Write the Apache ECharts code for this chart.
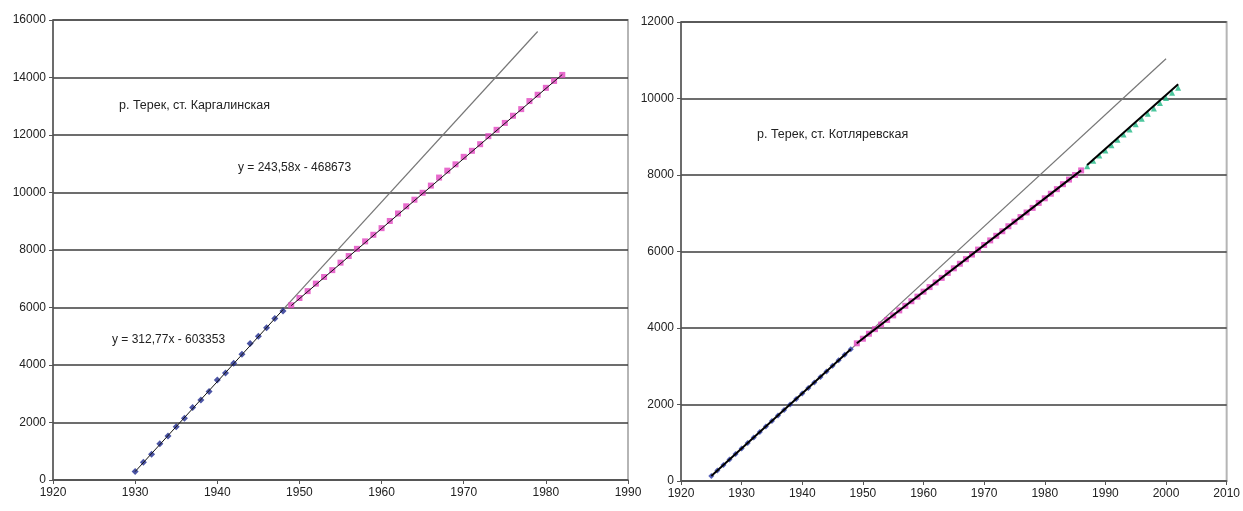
<!DOCTYPE html>
<html><head><meta charset="utf-8">
<script src="https://cdn.jsdelivr.net/npm/echarts@6/dist/echarts.min.js"></script>
<style>html,body{margin:0;padding:0;background:#fff}#c{width:1243px;height:511px}</style>
</head><body><div id="c"></div>
<script>
// ---- Left chart: р. Терек, ст. Каргалинская ----
const leftYearsA = [1930,1931,1932,1933,1934,1935,1936,1937,1938,1939,1940,1941,1942,1943,1944,1945,1946,1947,1948];
const leftValsA  = [300,620,900,1260,1530,1850,2150,2520,2780,3080,3480,3720,4060,4370,4750,5000,5300,5620,5880];
const leftYearsB = [1949,1950,1951,1952,1953,1954,1955,1956,1957,1958,1959,1960,1961,1962,1963,1964,1965,1966,1967,1968,1969,1970,1971,1972,1973,1974,1975,1976,1977,1978,1979,1980,1981,1982];
const leftValsB  = [6080,6330,6570,6830,7060,7300,7560,7790,8040,8300,8530,8760,9010,9270,9520,9750,9990,10240,10520,10760,10980,11240,11450,11680,11960,12180,12420,12670,12900,13180,13400,13640,13880,14090];
const leftTrendA = [[1930,293],[1948,5924]];
const leftTrendB = [[1949,6064],[1982,14104]];
const leftExtend = [[1948,5924],[1979,15600]];
const leftTitle = 'р. Терек, ст. Каргалинская';
const leftEqA = 'y = 312,77x - 603353';
const leftEqB = 'y = 243,58x - 468673';

// ---- Right chart: р. Терек, ст. Котляревская ----
const rightYearsA = [1925,1926,1927,1928,1929,1930,1931,1932,1933,1934,1935,1936,1937,1938,1939,1940,1941,1942,1943,1944,1945,1946,1947,1948];
const rightValsA  = [130,274,418,562,706,850,994,1138,1282,1426,1570,1714,1858,2002,2146,2290,2434,2578,2722,2866,3010,3154,3298,3442];
const rightYearsB = [1949,1950,1951,1952,1953,1954,1955,1956,1957,1958,1959,1960,1961,1962,1963,1964,1965,1966,1967,1968,1969,1970,1971,1972,1973,1974,1975,1976,1977,1978,1979,1980,1981,1982,1983,1984,1985,1986];
const rightValsB  = [3600,3720,3850,3970,4090,4210,4330,4460,4580,4700,4820,4950,5070,5190,5310,5440,5560,5680,5800,5920,6050,6170,6290,6410,6530,6660,6780,6900,7020,7140,7270,7390,7510,7630,7760,7880,8000,8120];
const rightYearsC = [1987,1988,1989,1990,1991,1992,1993,1994,1995,1996,1997,1998,1999,2000,2001,2002];
const rightValsC  = [8230,8370,8510,8640,8780,8920,9060,9190,9330,9470,9600,9740,9880,10010,10150,10280];
const rightTrendA = [[1925,130],[1948,3442]];
const rightTrendB = [[1949,3600],[1986,8120]];
const rightTrendC = [[1987,8260],[2002,10370]];
const rightExtend = [[1948,3442],[2000,11040]];
const rightTitle = 'р. Терек, ст. Котляревская';

const zip = (xs, ys) => xs.map((x, i) => [x, ys[i]]);
const FONT = '"Liberation Sans", Arial, sans-serif';
const plain = v => String(v);

function xAxis(gi, max) {
  return {type:'value', gridIndex:gi, min:1920, max:max, interval:10,
    axisLine:{show:true, lineStyle:{color:'#555', width:1.5}},
    axisTick:{show:true, inside:false, length:4, lineStyle:{color:'#555'}},
    axisLabel:{color:'#222', fontFamily:FONT, fontSize:12, margin:7, formatter:plain, showMaxLabel:true, showMinLabel:true},
    splitLine:{show:false}};
}
function yAxis(gi, max) {
  return {type:'value', gridIndex:gi, min:0, max:max, interval:2000,
    axisLine:{show:true, lineStyle:{color:'#555', width:1.5}},
    axisTick:{show:true, inside:false, length:4, lineStyle:{color:'#555'}},
    axisLabel:{color:'#222', fontFamily:FONT, fontSize:12, margin:7, formatter:plain},
    splitLine:{show:true, lineStyle:{color:'#3c3c3c', width:1.5}}};
}
function scat(gi, data, sym, size, color) {
  return {type:'scatter', xAxisIndex:gi, yAxisIndex:gi, data:data, symbol:sym, symbolSize:size,
    itemStyle:{color:color}, z:3, silent:true};
}
function ln(gi, data, color, width, z) {
  return {type:'line', xAxisIndex:gi, yAxisIndex:gi, data:data, symbol:'none',
    lineStyle:{color:color, width:width}, z:z, silent:true};
}

const chart = echarts.init(document.getElementById('c'), null, {renderer:'canvas'});
chart.setOption({
  animation:false,
  backgroundColor:'#fff',
  grid:[
    {left:53, top:20, width:575, height:460, show:true, borderColor:'#b5b5b5', borderWidth:2, backgroundColor:'#fff'},
    {left:681, top:22, width:548, height:459, show:true, borderColor:'#b5b5b5', borderWidth:2, backgroundColor:'#fff'}
  ],
  xAxis:[xAxis(0,1990), xAxis(1,2010)],
  yAxis:[yAxis(0,16000), yAxis(1,12000)],
  series:[
    ln(0, leftExtend, '#777', 1.2, 2),
    scat(0, zip(leftYearsA, leftValsA), 'diamond', 7, '#1f2a8f'),
    scat(0, zip(leftYearsB, leftValsB), 'rect', 6, '#e246c0'),
    ln(0, leftTrendA, '#111', 1, 4),
    ln(0, leftTrendB, '#111', 1, 4),
    ln(1, rightExtend, '#777', 1.2, 2),
    scat(1, zip(rightYearsA, rightValsA), 'diamond', 6, '#2a3aa8'),
    scat(1, zip(rightYearsB, rightValsB), 'rect', 6, '#e246c0'),
    scat(1, zip(rightYearsC, rightValsC), 'triangle', 6, '#1fb884'),
    ln(1, rightTrendA, '#000', 2, 4),
    ln(1, rightTrendB, '#000', 2, 4),
    ln(1, rightTrendC, '#000', 2, 4)
  ],
  graphic:[
    {type:'text', left:119, top:99, style:{text:leftTitle, font:'12.5px '+FONT, fill:'#222'}},
    {type:'text', left:238, top:162, style:{text:leftEqB, font:'12px '+FONT, fill:'#222'}},
    {type:'text', left:112, top:334, style:{text:leftEqA, font:'12px '+FONT, fill:'#222'}},
    {type:'text', left:757, top:128, style:{text:rightTitle, font:'12.5px '+FONT, fill:'#222'}}
  ]
});
</script></body></html>
